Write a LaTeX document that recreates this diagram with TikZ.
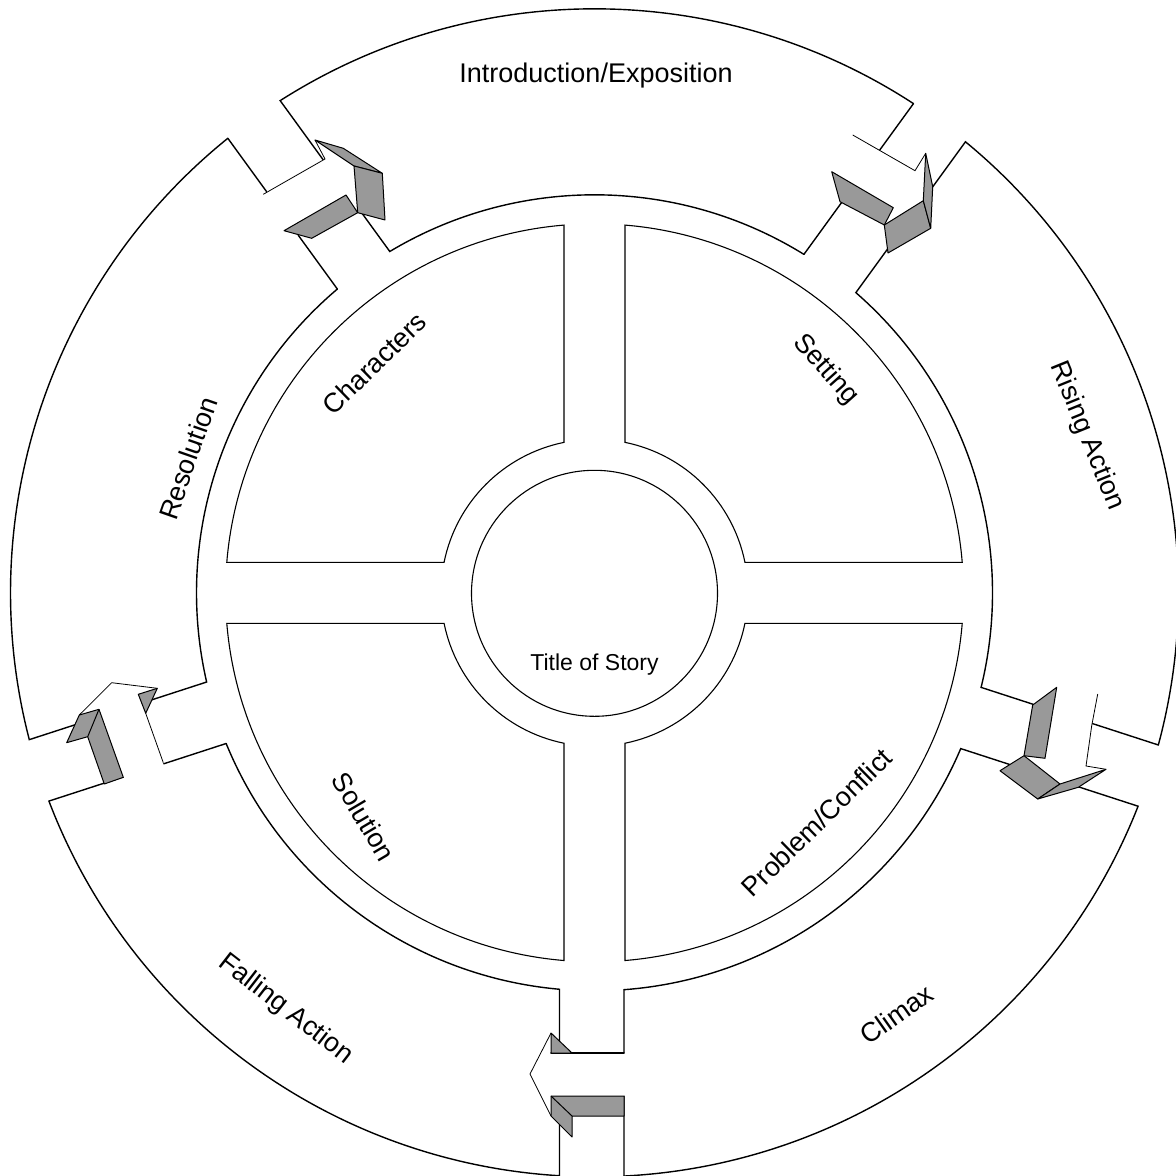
\documentclass[tikz,border=0pt]{standalone}
\usepackage{fontspec}
\setmainfont{Liberation Sans}
\usetikzlibrary{calc}
\definecolor{facegray}{RGB}{153,153,153}
\begin{document}
\begin{tikzpicture}[x=0.5pt,y=-0.5pt,
  ringline/.style={line width=0.7pt, line join=miter, line cap=round},
  quadline/.style={line width=0.55pt},
  headline/.style={line width=0.4pt, line join=miter},
  face/.style={fill=facegray, draw=black, line width=0.5pt, line join=round},
  crease/.style={draw=black, line width=0.5pt},
  lbl/.style={font=\fontsize{13.5}{16}\selectfont, inner sep=0pt},
  ttl/.style={font=\fontsize{11.5}{14}\selectfont, inner sep=0pt}]
\useasboundingbox (0,0) rectangle (1176,1176);
\coordinate (C) at (594.5,592.8);
\coordinate (T) at (594.5,593.3);

% four inner quadrants
\foreach \q in {0,90,180,270}{
  \draw[quadline] ($(C)+({\q+4.741}:369)$) arc[start angle={\q+4.741}, end angle={\q+85.259}, radius=369]
    -- ($(C)+({\q+78.54}:153.5)$) arc[start angle={\q+78.54}, end angle={\q+11.46}, radius=153.5] -- cycle;
}
% centre circle
\draw[quadline] (T) circle[radius=123];

% outer ring segments: inner arc, start edge, outer arc
\foreach \a in {234,306,18,90,162}{
  \draw[ringline] ($(C)+({\a+67.749}:398)$) arc[start angle={\a+67.749}, end angle={\a+5.045}, radius=398]
    -- ($(C)+({\a+3.436}:584)$) arc[start angle={\a+3.436}, end angle={\a+69.105}, radius=584];
}
% end edges, broken where the arrow leaves the segment
\foreach \J/\ra/\rb in {90/460.2/503.2,162/462.5/505,234/463.6/517.6,306/460.7/525.6,18/451.6/514}{
  \draw[ringline] ($(C)+({\J-4.251}:398)$) -- ($(C)+(\J:\ra)+({\J-90}:29.5)$);
  \draw[ringline] ($(C)+(\J:\rb)+({\J-90}:29.5)$) -- ($(C)+({\J-2.895}:584)$);
}

% arrow: Climax -> Falling Action (bottom)
\fill[white] (624,1053) -- (551,1053) -- (551,1033) -- (530,1074) -- (551,1116) -- (551,1096) -- (624,1096) -- cycle;
\draw[headline] (551,1033) -- (530,1074) -- (551,1116);
\draw[ringline] (551,1053) -- (624,1053);
\filldraw[face] (551,1033) -- (551,1053) -- (572,1053) -- cycle;
\filldraw[face] (551,1096) -- (624,1096) -- (624,1116) -- (572,1116) -- (572,1137) -- (551,1116) -- cycle;
\draw[crease] (551,1096) -- (572,1116);

% arrow: Falling Action -> Resolution (left)
\fill[white] (163.3,762.7) -- (145.7,713.3) -- (138.3,694.3) -- (157.3,688.3) -- (111.7,682.7) -- (79.3,715) -- (99,709.3) -- (123.3,777.3) -- cycle;
\draw[headline] (79.3,715) -- (111.7,682.7) -- (157.3,688.3);
\draw[headline] (145.7,713.3) -- (163.3,762.7);
\filldraw[face] (66.7,742.7) -- (79.3,715) -- (99,709.3) -- (123.3,777.3) -- (104.3,784) -- (87.7,736.7) -- cycle;
\draw[crease] (99,709.3) -- (87.7,736.7);
\filldraw[face] (138.3,694.3) -- (157.3,688.3) -- (145.7,713.3) -- cycle;

% arrow: Resolution -> Introduction (top left)
\fill[white] (263.3,194.3) -- (325,159) -- (315,140) -- (354,166) -- (357.7,212.7) -- (346,195) -- (284,230.7) -- cycle;
\draw[headline] (263.3,194.3) -- (325,159) -- (315,140);
\filldraw[face] (315,140) -- (343.3,148.3) -- (382.3,173.3) -- (354,166) -- cycle;
\filldraw[face] (354,166) -- (382.3,173.3) -- (385,220) -- (357.7,212.7) -- cycle;
\filldraw[face] (284,230.7) -- (346,195) -- (357.7,212.7) -- (311.7,238.3) -- cycle;

% arrow: Introduction -> Rising Action (top right)
\fill[white] (852.7,135) -- (915,170.7) -- (925.7,153.3) -- (923.3,200.7) -- (884.3,225) -- (893.3,207.7) -- (831.7,171.7) -- cycle;
\draw[headline] (852.7,135) -- (915,170.7) -- (925.7,153.3);
\filldraw[face] (831.7,171.7) -- (893.3,207.7) -- (884.3,225) -- (840,201.7) -- cycle;
\filldraw[face] (884.3,225) -- (923.3,200.7) -- (930.7,228.3) -- (888,253) -- cycle;
\filldraw[face] (925.7,153.3) -- (932.7,186.7) -- (930.7,228.3) -- (923.3,200.7) -- cycle;

% arrow: Rising Action -> Climax (right)
\fill[white] (1097.7,694) -- (1091.7,725.7) -- (1086,766) -- (1106,769.3) -- (1060,784) -- (1024,755.7) -- (1045,758.3) -- (1056.7,687.3) -- cycle;
\draw[headline] (1097.7,694) -- (1091.7,725.7) -- (1086,766) -- (1106,769.3);
\filldraw[face] (1032.7,705) -- (1056.7,687.3) -- (1045,758.3) -- (1024,755.7) -- cycle;
\filldraw[face] (1000,770.7) -- (1024,755.7) -- (1060,784) -- (1037.7,799) -- cycle;
\filldraw[face] (1037.7,799) -- (1060,784) -- (1106,769.3) -- (1078.3,787.3) -- cycle;

% labels
\node[lbl, anchor=base] (intro) at (596,83) {Introduction/Exposition};
\node[lbl, rotate=-67.9] (rising) at (1086.5,435.8) {Rising Action};
\node[lbl, rotate=35.2] (climax) at (896.6,1014.2) {Climax};
\node[lbl, rotate=-37.8] (falling) at (285.5,1009.2) {Falling Action};
\node[lbl, rotate=70.8] (resolution) at (188,458) {Resolution};
\node[lbl, rotate=44.3] (characters) at (374.5,363.3) {Characters};
\node[lbl, rotate=-48.1] (setting) at (825.5,370) {Setting};
\node[lbl, rotate=44.4] (problem) at (816.7,822.5) {Problem/Conflict};
\node[lbl, rotate=-59.4] (solution) at (364.1,816.7) {Solution};
\node[ttl, anchor=base] (title) at (594.5,670) {Title of Story};
\end{tikzpicture}
\end{document}
